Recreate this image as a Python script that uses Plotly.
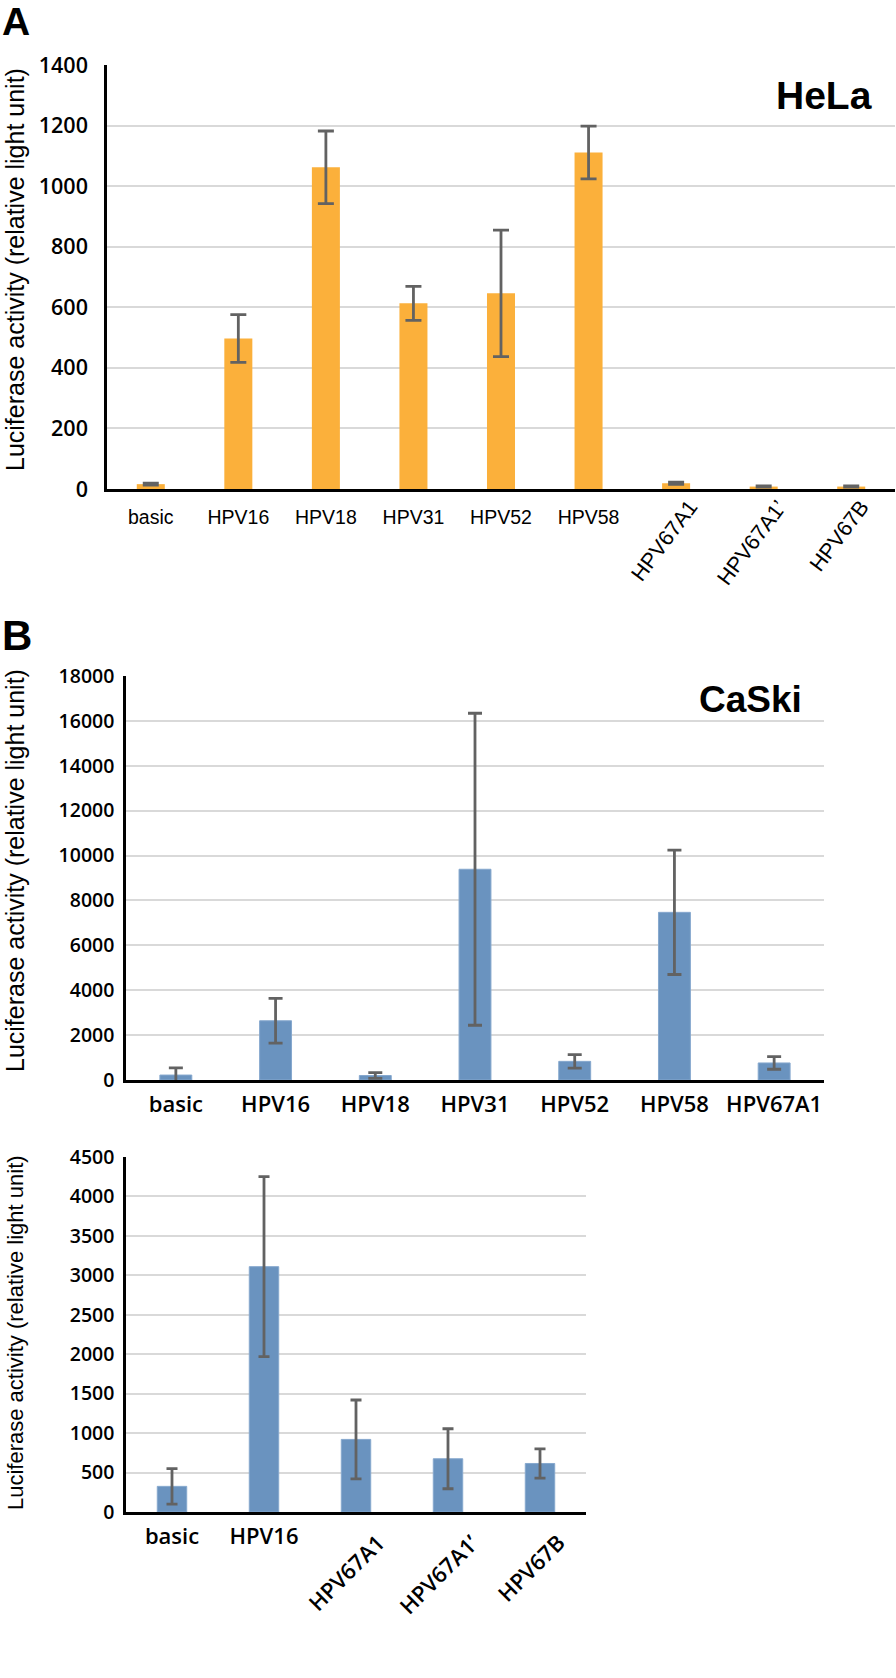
import plotly.graph_objects as go

# ---------------- data ----------------
hela_categories = ["basic", "HPV16", "HPV18", "HPV31", "HPV52", "HPV58",
                   "HPV67A1", "HPV67A1’", "HPV67B"]
hela_values = [16, 497, 1062, 613, 646, 1111, 19, 8, 8]
hela_errors = [3, 79, 120, 56, 209, 87, 4, 2, 2]
hela_rotated = ["HPV67A1", "HPV67A1’", "HPV67B"]

caski1_categories = ["basic", "HPV16", "HPV18", "HPV31", "HPV52", "HPV58", "HPV67A1"]
caski1_values = [220, 2640, 200, 9390, 830, 7470, 760]
caski1_errors = [320, 1000, 130, 6950, 300, 2770, 280]

caski2_categories = ["basic", "HPV16", "HPV67A1", "HPV67A1’", "HPV67B"]
caski2_values = [325, 3110, 920, 675, 615]
caski2_errors = [225, 1140, 500, 380, 185]
caski2_rotated = ["HPV67A1", "HPV67A1’", "HPV67B"]

y_title = "Luciferase activity (relative light unit)"

# ---------------- styling ----------------
W, H = 896, 1678
ORANGE = "#FBB03B"
BLUE = "#6A93BF"
BLUE_EDGE = "#86A8CE"
ERR = "#626262"
GRID = "#D9D9D9"
SANS = "Liberation Sans, Arial, sans-serif"
OPEN = "Open Sans, Liberation Sans, sans-serif"


def px_x(x):
    return x / W


def px_y(y):
    return 1 - y / H


fig = go.Figure()

fig.add_trace(go.Bar(x=hela_categories, y=hela_values, marker_color=ORANGE,
                     marker_line_width=0,
                     error_y=dict(type="data", array=hela_errors, color=ERR,
                                  thickness=2.8, width=8),
                     xaxis="x", yaxis="y"))
fig.add_trace(go.Bar(x=caski1_categories, y=caski1_values, marker_color=BLUE,
                     marker_line=dict(width=1, color=BLUE_EDGE),
                     error_y=dict(type="data", array=caski1_errors, color=ERR,
                                  thickness=2.8, width=7),
                     xaxis="x2", yaxis="y2"))
fig.add_trace(go.Bar(x=caski2_categories, y=caski2_values, marker_color=BLUE,
                     marker_line=dict(width=1, color=BLUE_EDGE),
                     error_y=dict(type="data", array=caski2_errors, color=ERR,
                                  thickness=2.8, width=5.5),
                     xaxis="x3", yaxis="y3"))

common_x = dict(showline=True, linecolor="black", linewidth=2.5, ticks="",
                showgrid=False, zeroline=False, automargin=False)
common_y = dict(showline=True, linecolor="black", linewidth=2.5, ticks="",
                showgrid=True, gridcolor=GRID, gridwidth=2, zeroline=False,
                tickformat="d", automargin=False)

fig.update_layout(
    width=W, height=H, margin=dict(l=0, r=0, t=0, b=0, pad=0, autoexpand=False),
    paper_bgcolor="white", plot_bgcolor="white", showlegend=False,
    bargap=0.68,
    xaxis=dict(common_x, domain=[px_x(107), px_x(895)], anchor="y",
               tickmode="array", tickvals=hela_categories,
               ticktext=[c if c not in hela_rotated else "" for c in hela_categories],
               tickfont=dict(family=SANS, size=19.5, color="black"),
               tickangle=0, ticklabelstandoff=9),
    yaxis=dict(common_y, domain=[px_y(489), px_y(65)], anchor="x",
               range=[0, 1400], dtick=200,
               tickfont=dict(family=OPEN, size=21.5, color="black", weight=600),
               ticklabelstandoff=12),
    xaxis2=dict(common_x, domain=[px_x(126), px_x(824)], anchor="y2",
                tickfont=dict(family=OPEN, size=22, color="black", weight=600),
                tickangle=0, ticklabelstandoff=3),
    yaxis2=dict(common_y, domain=[px_y(1080), px_y(676)], anchor="x2",
                range=[0, 18000], dtick=2000,
                tickfont=dict(family=OPEN, size=19.5, color="black", weight=600),
                ticklabelstandoff=5),
    xaxis3=dict(common_x, domain=[px_x(126), px_x(586)], anchor="y3",
                tickmode="array", tickvals=caski2_categories,
                ticktext=[c if c not in caski2_rotated else "" for c in caski2_categories],
                tickfont=dict(family=OPEN, size=22, color="black", weight=600),
                tickangle=0, ticklabelstandoff=3),
    yaxis3=dict(common_y, domain=[px_y(1512), px_y(1157)], anchor="x3",
                range=[0, 4500], dtick=500,
                tickfont=dict(family=OPEN, size=19.5, color="black", weight=600),
                ticklabelstandoff=5),
)

ann = []
# rotated category labels
for c in hela_rotated:
    ann.append(dict(x=c, y=0, xref="x", yref="y", text=c, showarrow=False,
                    textangle=-53, xanchor="center", yanchor="top", yshift=-4,
                    xshift=-12,
                    font=dict(family=SANS, size=21.5, color="black")))
for c in caski2_rotated:
    ann.append(dict(x=c, y=0, xref="x3", yref="y3", text=c, showarrow=False,
                    textangle=-45, xanchor="center", yanchor="top", yshift=-13,
                    xshift=-10,
                    font=dict(family=OPEN, size=22, color="black", weight=600)))
# y-axis titles
for cy, size in [(270, 25), (871, 25), (1333, 22)]:
    ann.append(dict(x=px_x(15), y=px_y(cy), xref="paper", yref="paper",
                    text=y_title, showarrow=False, textangle=-90,
                    xanchor="center", yanchor="middle",
                    font=dict(family=SANS, size=size, color="black")))
# panel letters
ann.append(dict(x=0, y=px_y(21), xref="paper", yref="paper", text="<b>A</b>",
                showarrow=False, xanchor="left", yanchor="middle",
                font=dict(family=SANS, size=39, color="black")))
ann.append(dict(x=0, y=px_y(636), xref="paper", yref="paper", text="<b>B</b>",
                showarrow=False, xanchor="left", yanchor="middle",
                font=dict(family=SANS, size=42, color="black")))
# cell line labels
ann.append(dict(x=px_x(874), y=px_y(96), xref="paper", yref="paper", text="<b>HeLa</b>",
                showarrow=False, xanchor="right", yanchor="middle",
                font=dict(family=SANS, size=39, color="black")))
ann.append(dict(x=px_x(804), y=px_y(699), xref="paper", yref="paper", text="<b>CaSki</b>",
                showarrow=False, xanchor="right", yanchor="middle",
                font=dict(family=SANS, size=37, color="black")))
fig.update_layout(annotations=ann)

fig.write_html("out.html", config={"displayModeBar": False},
               post_script="document.body.style.margin='0';document.body.style.padding='0';")
